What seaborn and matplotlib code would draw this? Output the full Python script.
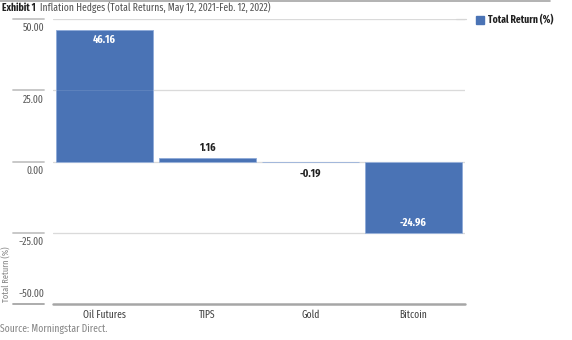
import matplotlib
matplotlib.use("Agg")
import matplotlib.pyplot as plt
import seaborn as sns
import pandas as pd
from matplotlib import font_manager as fm
from matplotlib.lines import Line2D
from matplotlib.patches import Rectangle

categories = ["Oil Futures", "TIPS", "Gold", "Bitcoin"]
values = [46.16, 1.16, -0.19, -24.96]
yticks = [50, 25, 0, -25, -50]
ytick_labels = ["50.00", "25.00", "0.00", "\u221225.00", "\u221250.00"]
series_name = "Total Return (%)"
title_bold = "Exhibit 1"
title_rest = "Inflation Hedges (Total Returns, May 12, 2021-Feb. 12, 2022)"
source = "Source: Morningstar Direct."
yaxis_title = "Total Return (%)"

sns.set_theme(style="white")
available = {f.name for f in fm.fontManager.ttflist}
candidates = ["Fira Sans Extra Condensed", "Roboto Condensed", "Barlow Condensed",
              "Archivo Narrow", "Liberation Sans Narrow", "Roboto", "DejaVu Sans"]
FONT = next(c for c in candidates if c in available)
plt.rcParams['font.family'] = [FONT, 'DejaVu Sans']

BLUE = "#4a73b5"
GRAY_TXT = "#595959"
FS = 7.5

df = pd.DataFrame({"cat": categories, "val": values})

fig = plt.figure(figsize=(5.72, 3.40), dpi=100)
W, H = 572, 340
L, R, T, B = 53, 465, 19, 304
ax = fig.add_axes([L / W, 1 - B / H, (R - L) / W, (B - T) / H])

sns.barplot(data=df, x="cat", y="val", color=BLUE, saturation=1, width=0.95,
            ax=ax, zorder=2, edgecolor="#8eaad8", linewidth=0.6)
ax.set_ylim(-50, 50)
ax.set_xlim(-0.5, 3.5)
for s in ax.spines.values():
    s.set_visible(False)
ax.set_yticks([])
ax.set_xlabel("")
ax.set_ylabel("")
ax.tick_params(axis="x", length=0, labelsize=FS, labelcolor="#444444", pad=4)

# gridlines
for yv in [50, 25, 0, -25]:
    ax.axhline(yv, color="#d6d6d6", lw=0.9, zorder=1)
    ax.axhline(yv, color="#ffffff", lw=0.6, alpha=0.12, zorder=3)
ax.axhline(-50, color="#a6a6a6", lw=1.8, zorder=3, clip_on=False)

# custom tick lines + labels (Morningstar style)
tr = ax.get_yaxis_transform()
x0 = (13 - L) / (R - L)
x1 = (44 - L) / (R - L)
for yv, lab in zip(yticks, ytick_labels):
    lc = "#a6a6a6" if yv == -50 else "#c4c4c4"
    ax.add_line(Line2D([x0, x1], [yv, yv], transform=tr, color=lc,
                       lw=1.3, clip_on=False))
    if yv == -50:
        ax.text(x1, yv + 1.6, lab, transform=tr, ha="right", va="bottom",
                fontsize=FS, color=GRAY_TXT)
    else:
        ax.text(x1, yv - 1.4, lab, transform=tr, ha="right", va="top",
                fontsize=FS, color=GRAY_TXT)

# bar value labels
BFS = 8
for i, v in enumerate(values):
    if abs(v) > 10:
        if v > 0:
            ax.text(i, v - 1.8, f"{v:.2f}", ha="center", va="top", color="white",
                    fontsize=BFS, fontweight="bold", zorder=4)
        else:
            ax.text(i, v + 1.6, f"{v:.2f}", ha="center", va="bottom", color="white",
                    fontsize=BFS, fontweight="bold", zorder=4)
    else:
        if v >= 0:
            ax.text(i, v + 1.6, f"{v:.2f}", ha="center", va="bottom", color="#222222",
                    fontsize=BFS, fontweight="bold", zorder=4)
        else:
            ax.text(i, v - 2.2, f"{v:.2f}", ha="center", va="top", color="#222222",
                    fontsize=BFS, fontweight="bold", zorder=4)

# y-axis title
fig.text(7 / W, 1 - 274 / H, yaxis_title, rotation=90, ha="center", va="center",
         fontsize=6.5, color="#888888")

# top rule
fig.add_artist(Line2D([0, 550 / W], [1 - 1 / H, 1 - 1 / H], color="#a6a6a6", lw=1.2))

# title
t1 = fig.text(2 / W, 1 - 7.5 / H, title_bold, ha="left", va="center", fontsize=FS,
              fontweight="bold", color="#222222")
fig.canvas.draw()
bb = t1.get_window_extent()
fig.text((bb.x1 + 4) / W, 1 - 7.5 / H, title_rest,
         ha="left", va="center", fontsize=FS, color="#555555")

# legend
fig.add_artist(Rectangle((476 / W, 1 - 24 / H), 8 / W, 8 / H, color=BLUE,
                         transform=fig.transFigure))
fig.text(488 / W, 1 - 20 / H, series_name, ha="left", va="center", fontsize=FS,
         fontweight="bold", color="#222222")
fig.add_artist(Line2D([456 / W, 466 / W], [1 - 19 / H, 1 - 19 / H], color="#d6d6d6", lw=0.9))

# source
fig.text(0, 1 - 329 / H, source, ha="left", va="center",
         fontsize=FS, color="#888888")

fig.savefig("out.png", dpi=100)
